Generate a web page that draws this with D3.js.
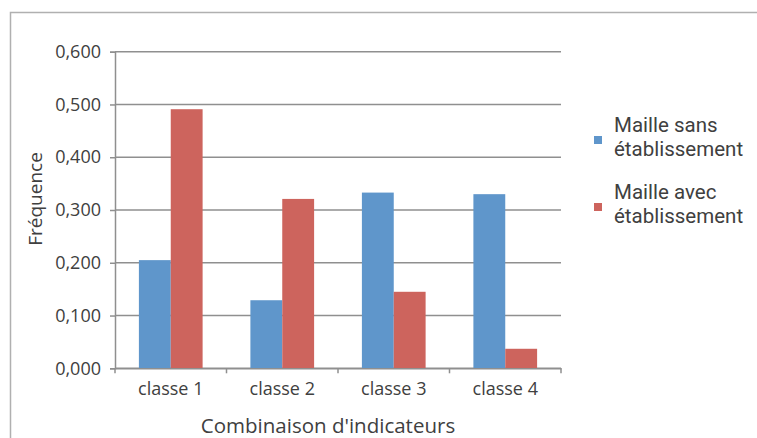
<!DOCTYPE html>
<html>
<head>
<meta charset="utf-8">
<script src="https://cdn.jsdelivr.net/npm/d3@7"></script>
<style>
  body { margin: 0; background: #fff; }
  text { font-family: "Open Sans", sans-serif; fill: #404040; }
</style>
</head>
<body>
<div id="chart"></div>
<script>
// Data
const categories = ["classe 1", "classe 2", "classe 3", "classe 4"];
const seriesNames = ["Maille sans\nétablissement", "Maille avec\nétablissement"];
const sansValues = [0.205, 0.129, 0.333, 0.330];
const avecValues = [0.491, 0.321, 0.145, 0.037];
const yTicks = [0, 0.1, 0.2, 0.3, 0.4, 0.5, 0.6];
const colors = ["#5f96cb", "#cd645d"];

const W = 757, H = 438;
const plot = {left: 115, right: 561, top: 51.7, bottom: 368.3};

const svg = d3.select("#chart")
  .append("svg")
    .attr("width", W)
    .attr("height", H);

// outer frame (only top and left visible)
svg.append("path")
  .attr("d", `M10.5,${H} V12.5 H${W}`)
  .attr("fill", "none")
  .attr("stroke", "#b0b0b0")
  .attr("stroke-width", 1.5);

// scales
const x = d3.scaleBand()
  .domain(categories)
  .range([plot.left, plot.right]);

const xSub = d3.scaleBand()
  .domain([0, 1])
  .range([0, x.bandwidth()])
  .paddingInner(0)
  .paddingOuter(0.75);

const y = d3.scaleLinear()
  .domain([0, 0.6])
  .range([plot.bottom, plot.top]);

const fmt = v => d3.format(".3f")(v).replace(".", ",");

// gridlines
svg.append("g")
  .selectAll("line")
  .data(yTicks)
  .join("line")
    .attr("x1", plot.left)
    .attr("x2", plot.right)
    .attr("y1", d => y(d))
    .attr("y2", d => y(d))
    .attr("stroke", "#8f8f8f")
    .attr("stroke-width", 1.5);

// y axis
const yAxis = svg.append("g")
  .attr("transform", `translate(${plot.left},0)`)
  .call(d3.axisLeft(y).tickValues(yTicks).tickFormat(fmt).tickSize(5).tickPadding(9));
yAxis.select(".domain").attr("stroke", "#8f8f8f").attr("stroke-width", 1.5);
yAxis.selectAll(".tick line").attr("stroke", "#8f8f8f").attr("stroke-width", 1.5);
yAxis.selectAll(".tick text")
  .style("font-size", "18px")
  .style("font-family", "Open Sans")
  .attr("fill", "#404040");

// bars
const rows = categories.map((c, i) => ({category: c, values: [sansValues[i], avecValues[i]]}));

svg.append("g")
  .selectAll("g")
  .data(rows)
  .join("g")
    .attr("transform", d => `translate(${x(d.category)},0)`)
  .selectAll("rect")
  .data(d => d.values.map((v, k) => ({k, v})))
  .join("rect")
    .attr("x", d => xSub(d.k))
    .attr("width", xSub.bandwidth())
    .attr("y", d => y(d.v))
    .attr("height", d => y(0) - y(d.v))
    .attr("fill", d => colors[d.k]);

// x axis
const xAxis = svg.append("g")
  .attr("transform", `translate(0,${plot.bottom})`)
  .call(d3.axisBottom(x).tickSize(0).tickPadding(14));
xAxis.select(".domain").attr("stroke", "#8f8f8f").attr("stroke-width", 1.5);
xAxis.selectAll(".tick text")
  .style("font-size", "18px")
  .style("font-family", "Open Sans")
  .attr("fill", "#404040");

// category boundary ticks
const bounds = categories.map(c => x(c)).concat([plot.right]);
svg.append("g")
  .selectAll("line")
  .data(bounds)
  .join("line")
    .attr("x1", d => d)
    .attr("x2", d => d)
    .attr("y1", plot.bottom)
    .attr("y2", plot.bottom + 5)
    .attr("stroke", "#8f8f8f")
    .attr("stroke-width", 1.5);

// axis titles
svg.append("text")
  .attr("x", 328)
  .attr("y", 433)
  .attr("text-anchor", "middle")
  .style("font-size", "20.5px")
  .text("Combinaison d'indicateurs");

svg.append("text")
  .attr("transform", "translate(35,199) rotate(-90)")
  .attr("dy", "0.35em")
  .attr("text-anchor", "middle")
  .style("font-size", "19px")
  .text("Fréquence");

// legend
const legend = svg.append("g")
  .selectAll("g")
  .data(seriesNames)
  .join("g")
    .attr("transform", (d, i) => `translate(594,${140 + i * 67})`);

legend.append("rect")
  .attr("x", 0)
  .attr("y", -4)
  .attr("width", 8)
  .attr("height", 8)
  .attr("fill", (d, i) => colors[i]);

legend.append("text")
  .style("font-family", "Roboto, sans-serif")
  .style("font-size", "20.5px")
  .selectAll("tspan")
  .data(d => d.split("\n"))
  .join("tspan")
    .attr("x", 20)
    .attr("y", (d, j) => -8.5 + j * 24)
    .text(d => d);
</script>
</body>
</html>
